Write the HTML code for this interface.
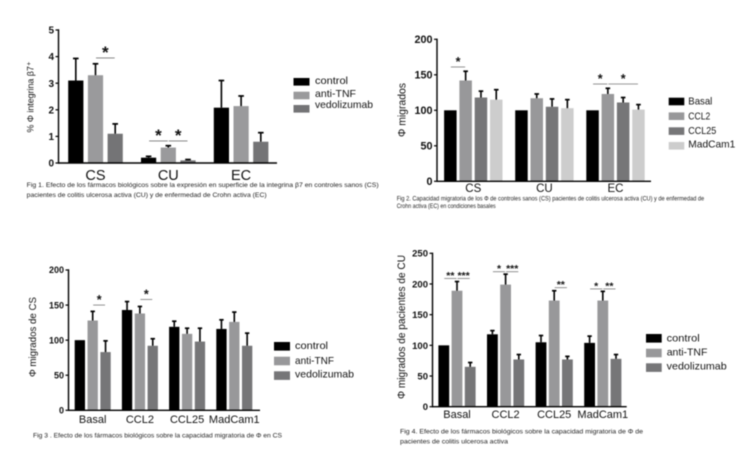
<!DOCTYPE html>
<html lang="es">
<head>
<meta charset="utf-8">
<title>Figuras de migración de macrófagos</title>
<style>
html,body{margin:0;padding:0;background:#fff;width:750px;height:455px;overflow:hidden}
svg{display:block;filter:blur(0.4px)}
text{font-family:"Liberation Sans",sans-serif;fill:#111}
.cap{font-size:6px;fill:#222}
</style>
</head>
<body>
<svg id="page" xmlns="http://www.w3.org/2000/svg" width="750" height="455" viewBox="0 0 750 455"></svg>
<script>
// ---------- Fig 1 data ----------
const fig1Categories = ['CS', 'CU', 'EC'];
const fig1SeriesNames = ['control', 'anti-TNF', 'vedolizumab'];
const fig1Control = [3.1, 0.2, 2.08];
const fig1AntiTnf = [3.3, 0.58, 2.14];
const fig1Vedolizumab = [1.1, 0.1, 0.8];
const fig1ControlErr = [0.83, 0.05, 1.02];
const fig1AntiTnfErr = [0.43, 0.07, 0.38];
const fig1VedolizumabErr = [0.37, 0.03, 0.34];
const fig1Ticks = [0, 1, 2, 3, 4, 5];
const fig1Sig = [[0, 1, 2, 3.95, '*'], [1, 0, 1, 0.83, '*'], [1, 1, 2, 0.83, '*']];

// ---------- Fig 2 data ----------
const fig2Categories = ['CS', 'CU', 'EC'];
const fig2SeriesNames = ['Basal', 'CCL2', 'CCL25', 'MadCam1'];
const fig2Basal = [100, 100, 100];
const fig2Ccl2 = [142, 117, 123];
const fig2Ccl25 = [118, 105, 111];
const fig2MadCam = [115, 103, 101];
const fig2BasalErr = [0, 0, 0];
const fig2Ccl2Err = [13, 6, 8];
const fig2Ccl25Err = [9, 11, 7];
const fig2MadCamErr = [14, 12, 7];
const fig2Ticks = [0, 50, 100, 150, 200];
const fig2Sig = [[0, 0, 1, 161, '*'], [2, 0, 1, 137, '*'], [2, 1, 3, 137, '*']];

// ---------- Fig 3 data ----------
const fig3Categories = ['Basal', 'CCL2', 'CCL25', 'MadCam1'];
const fig3SeriesNames = ['control', 'anti-TNF', 'vedolizumab'];
const fig3Control = [100, 143, 119, 116];
const fig3AntiTnf = [128, 138, 109, 126];
const fig3Vedolizumab = [83, 92, 98, 92];
const fig3ControlErr = [0, 12, 8, 13];
const fig3AntiTnfErr = [13, 10, 8, 14];
const fig3VedolizumabErr = [16, 10, 19, 18];
const fig3Ticks = [0, 50, 100, 150, 200];
const fig3Sig = [[0, 1, 2, 150, '*'], [1, 1, 2, 158, '*']];

// ---------- Fig 4 data ----------
const fig4Categories = ['Basal', 'CCL2', 'CCL25', 'MadCam1'];
const fig4SeriesNames = ['control', 'anti-TNF', 'vedolizumab'];
const fig4Control = [100, 118, 105, 104];
const fig4AntiTnf = [189, 199, 173, 173];
const fig4Vedolizumab = [65, 77, 77, 78];
const fig4ControlErr = [0, 6, 11, 11];
const fig4AntiTnfErr = [15, 17, 16, 15];
const fig4VedolizumabErr = [7, 8, 5, 7];
const fig4Ticks = [0, 50, 100, 150, 200, 250];
const fig4Sig = [[0, 0, 1, 209, '**'], [0, 1, 2, 209, '***'], [1, 0, 1, 220, '*'], [1, 1, 2, 220, '***'], [2, 1, 2, 194, '**'], [3, 0, 1, 192, '*'], [3, 1, 2, 192, '**']];

const SVGNS = 'http://www.w3.org/2000/svg';
const root = document.getElementById('page');

function el(parent, tag, attrs, name) {
  const e = document.createElementNS(SVGNS, tag);
  for (const k in attrs) e.setAttribute(k, attrs[k]);
  
  
  parent.appendChild(e);
  return e;
}
function txt(parent, attrs, s, name) {
  const e = el(parent, 'text', attrs, name);
  e.textContent = s;
  return e;
}

function drawChart(c) {
  const g = el(root, 'g', {}, c.id);
  const yScale = v => c.y0 - (v - c.yMin) * (c.y0 - c.yTop) / (c.yMax - c.yMin);
  const n = c.series.length;
  const barX = (gi, si) => c.centers[0] + gi * c.groupStep + (si - (n - 1) / 2) * c.pitch;

  // bars and error bars
  c.series.forEach((vals, si) => {
    vals.forEach((v, gi) => {
      const x = barX(gi, si), y = yScale(v);
      el(g, 'rect', {x: x - c.barW / 2, y: y, width: c.barW, height: c.y0 - y, fill: c.colors[si]}, 'bar-' + c.cats[gi].toLowerCase() + '-' + c.names[si].toLowerCase());
      const err = c.errs[si][gi];
      if (err > 0) {
        const t = yScale(v + err);
        el(g, 'line', {x1: x, x2: x, y1: y, y2: t, stroke: '#000', 'stroke-width': 1.6}, 'error-bar');
        el(g, 'line', {x1: x - c.cap, x2: x + c.cap, y1: t, y2: t, stroke: '#000', 'stroke-width': 1.7}, 'error-cap');
      }
    });
  });

  // axes
  el(g, 'line', {x1: c.x0, x2: c.x0, y1: yScale(c.yMax) - 0.7, y2: c.y0 + 0.7, stroke: '#000', 'stroke-width': 1.4}, 'y-axis');
  el(g, 'line', {x1: c.x0, x2: c.xEnd, y1: c.y0, y2: c.y0, stroke: '#000', 'stroke-width': 1.4}, 'x-axis');
  c.ticks.forEach(t => {
    const y = yScale(t);
    el(g, 'line', {x1: c.x0 - 3, x2: c.x0, y1: y, y2: y, stroke: '#000', 'stroke-width': 1.2}, 'y-tick');
    txt(g, {x: c.x0 - 4.5, y: y + c.tickFont * 0.36, 'text-anchor': 'end', 'font-size': c.tickFont, 'font-weight': 'bold'}, String(t), 'y-tick-label');
  });
  c.cats.forEach((cat, gi) => {
    txt(g, {x: c.centers[0] + gi * c.groupStep, y: c.catBase, 'text-anchor': 'middle', 'font-size': c.catFont, 'fill': '#111'}, cat, 'x-category-label');
  });

  // y title
  const yt = txt(g, {x: 0, y: 0, 'text-anchor': 'middle', 'font-size': c.titleFont, transform: 'translate(' + c.titleX + ',' + c.titleY + ') rotate(-90)', textLength: c.titleLen, lengthAdjust: 'spacingAndGlyphs'}, c.title, 'y-axis-title');
  yt.setAttribute('dominant-baseline', 'middle');

  // significance
  c.sig.forEach(s => {
    const x1 = barX(s[0], s[1]) + 0.5, x2 = barX(s[0], s[2]) - 0.5, y = yScale(s[3]);
    el(g, 'line', {x1: x1, x2: x2, y1: y, y2: y, stroke: '#777', 'stroke-width': 0.8}, 'significance-line');
    txt(g, {x: (x1 + x2) / 2, y: y + c.starDy, 'text-anchor': 'middle', 'font-size': c.starFont, 'font-weight': 'bold', 'fill': '#111'}, s[4], 'significance-stars');
  });

  // legend
  c.names.forEach((nm, i) => {
    const L = c.legend;
    const le = el(g, 'g', {}, 'legend-entry');
    el(le, 'rect', {x: L.x, y: L.ys[i], width: L.w, height: L.h, fill: c.colors[i]}, 'legend-swatch');
    txt(le, {x: L.tx, y: L.bases[i], 'font-size': L.font, textLength: L.lens[i], lengthAdjust: 'spacingAndGlyphs'}, nm, 'legend-label');
  });

  // caption
  c.caption.forEach(l => {
    txt(g, {x: c.capX, y: l[1], class: 'cap', textLength: l[2], lengthAdjust: 'spacingAndGlyphs'}, l[0], 'figure-caption');
  });
}

drawChart({
  id: 'chart-fig1', cats: fig1Categories, names: fig1SeriesNames,
  series: [fig1Control, fig1AntiTnf, fig1Vedolizumab], errs: [fig1ControlErr, fig1AntiTnfErr, fig1VedolizumabErr],
  colors: ['#000', '#9a9a9c', '#747476'], ticks: fig1Ticks, sig: fig1Sig,
  x0: 58.5, xEnd: 277, y0: 163, yTop: 30, yMin: 0, yMax: 5,
  centers: [95.5], groupStep: 72.8, pitch: 19.7, barW: 15.2, cap: 2.8,
  tickFont: 10, catFont: 14.5, catBase: 180,
  title: '% Φ integrina β7⁺', titleFont: 9.5, titleX: 31, titleY: 97, titleLen: 71,
  starFont: 17, starDy: 0,
  legend: {x: 293.5, w: 16, h: 7.6, ys: [78, 91.7, 105], tx: 315, bases: [84, 97, 108], font: 10.5, lens: [33, 41, 58]},
  capX: 26.7, caption: [
    ['Fig 1. Efecto de los fármacos biológicos sobre la expresión en superficie de la  integrina  β7 en controles sanos (CS)', 187, 352],
    ['pacientes de colitis ulcerosa activa (CU) y de enfermedad de Crohn activa (EC)', 197, 240]
  ]
});

drawChart({
  id: 'chart-fig2', cats: fig2Categories, names: fig2SeriesNames,
  series: [fig2Basal, fig2Ccl2, fig2Ccl25, fig2MadCam], errs: [fig2BasalErr, fig2Ccl2Err, fig2Ccl25Err, fig2MadCamErr],
  colors: ['#000', '#98989a', '#767678', '#cdcdcd'], ticks: fig2Ticks, sig: fig2Sig,
  x0: 437, xEnd: 651, y0: 181.3, yTop: 39.3, yMin: 0, yMax: 200,
  centers: [473.3], groupStep: 71.1, pitch: 15.3, barW: 12.5, cap: 2.3,
  tickFont: 10.8, catFont: 11.5, catBase: 192,
  title: 'Φ migrados', titleFont: 11, titleX: 402.5, titleY: 110, titleLen: 54,
  starFont: 12.5, starDy: -1,
  legend: {x: 668.7, w: 15.6, h: 7.6, ys: [97.7, 112.4, 127.3, 142], tx: 688.3, bases: [104.7, 119.3, 134, 147.5], font: 10.5, lens: [24, 22, 28, 47]},
  capX: 396.7, caption: [
    ['Fig 2. Capacidad migratoria de los Φ de controles sanos (CS) pacientes de colitis ulcerosa activa (CU) y de enfermedad de', 200.7, 307.5],
    ['Crohn activa (EC) en condiciones basales', 208.2, 99]
  ]
});

drawChart({
  id: 'chart-fig3', cats: fig3Categories, names: fig3SeriesNames,
  series: [fig3Control, fig3AntiTnf, fig3Vedolizumab], errs: [fig3ControlErr, fig3AntiTnfErr, fig3VedolizumabErr],
  colors: ['#000', '#98989a', '#767678'], ticks: fig3Ticks, sig: fig3Sig,
  x0: 68.5, xEnd: 260, y0: 410.3, yTop: 270, yMin: 0, yMax: 200,
  centers: [92.7], groupStep: 47.2, pitch: 12.85, barW: 10.3, cap: 2.2,
  tickFont: 9, catFont: 11, catBase: 423,
  title: 'Φ migrados de CS', titleFont: 10.5, titleX: 33, titleY: 337, titleLen: 80,
  starFont: 12.5, starDy: -1,
  legend: {x: 274, w: 16, h: 8.6, ys: [342, 356.7, 371.3], tx: 295, bases: [349, 364, 377.5], font: 10.5, lens: [33, 39, 59]},
  capX: 33, caption: [
    ['Fig 3 . Efecto de los fármacos biológicos sobre la capacidad migratoria de Φ en CS', 437.3, 249]
  ]
});

drawChart({
  id: 'chart-fig4', cats: fig4Categories, names: fig4SeriesNames,
  series: [fig4Control, fig4AntiTnf, fig4Vedolizumab], errs: [fig4ControlErr, fig4AntiTnfErr, fig4VedolizumabErr],
  colors: ['#000', '#98989a', '#767678'], ticks: fig4Ticks, sig: fig4Sig,
  x0: 432.5, xEnd: 626.7, y0: 406.7, yTop: 253.3, yMin: 0, yMax: 250,
  centers: [457], groupStep: 48.6, pitch: 13.2, barW: 10.8, cap: 2.2,
  tickFont: 9.5, catFont: 11, catBase: 418,
  title: 'Φ migrados de pacientes de CU', titleFont: 11, titleX: 402, titleY: 327, titleLen: 144,
  starFont: 10.5, starDy: 0.5,
  legend: {x: 646, w: 15.7, h: 8.6, ys: [334, 348.7, 363.3], tx: 666.7, bases: [341.3, 355.7, 369.7], font: 10.5, lens: [33, 40.7, 60]},
  capX: 400, caption: [
    ['Fig 4. Efecto de los fármacos biológicos sobre la capacidad migratoria de  Φ de', 433.3, 243],
    ['pacientes de colitis ulcerosa activa', 443.3, 108]
  ]
});
</script>
</body>
</html>
